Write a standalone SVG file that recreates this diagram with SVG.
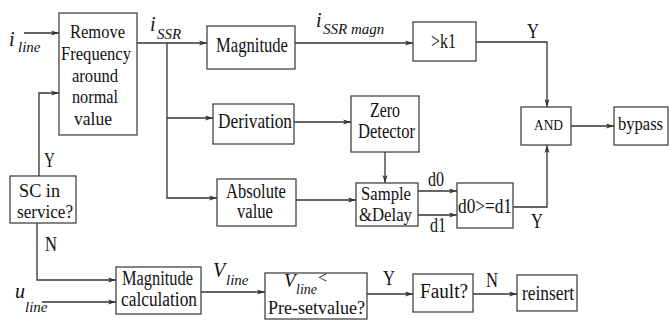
<svg xmlns="http://www.w3.org/2000/svg" width="669" height="320" viewBox="0 0 669 320" font-family="'Liberation Serif', 'Times New Roman', serif">
<defs>
<marker id="arr" viewBox="0 0 8 6" refX="8" refY="3" markerWidth="8" markerHeight="6" markerUnits="userSpaceOnUse" orient="auto">
<path d="M0,0.5 L8,3 L0,5.5 L2,3 Z" fill="#333"/>
</marker>
<style>
text{font-family:'Liberation Serif','Times New Roman',serif;fill:#111}
.box{fill:#fff;stroke:#444;stroke-width:1.3}
.t{font-size:20px}
.r{font-size:18.5px}
.i{font-style:italic;font-size:20px}
.s{font-style:italic;font-size:15px}
.c{fill:none;stroke:#333;stroke-width:1.3}
.a{marker-end:url(#arr)}
</style>
</defs>
<rect width="669" height="320" fill="#fff"/>
<g id="connectors">
<path class="c a" d="M24,33 H59"/>
<path class="c a" d="M39,176 V93 H59"/>
<path class="c a" d="M137,43 H207"/>
<path class="c a" d="M167,43 V198 H217"/>
<path class="c a" d="M167,118 H213"/>
<path class="c a" d="M295,43 H413"/>
<path class="c a" d="M476,42 H547 V107"/>
<path class="c a" d="M294,122 H351"/>
<path class="c a" d="M385,152 V183"/>
<path class="c a" d="M296,200 H356"/>
<path class="c a" d="M418,191 H457"/>
<path class="c a" d="M418,215 H457"/>
<path class="c a" d="M513,207 H547 V145"/>
<path class="c a" d="M571,126 H614"/>
<path class="c a" d="M37,223 V280 H116"/>
<path class="c a" d="M42,302 H116"/>
<path class="c a" d="M201,292 H265"/>
<path class="c a" d="M367,294 H413"/>
<path class="c a" d="M473,294 H517"/>
</g>
<g id="labels">
<text class="i" x="9" y="46">i<tspan class="s" x="18" y="52">line</tspan></text>
<text class="i" x="150" y="31">i<tspan class="s" x="157" y="39">SSR</tspan></text>
<text class="i" x="316" y="27">i<tspan class="s" x="323" y="34">SSR magn</tspan></text>
<text class="t" x="527" y="38" textLength="12" lengthAdjust="spacingAndGlyphs">Y</text>
<text class="t" x="428" y="186" textLength="16" lengthAdjust="spacingAndGlyphs">d0</text>
<text class="t" x="430" y="232" textLength="16" lengthAdjust="spacingAndGlyphs">d1</text>
<text class="t" x="531" y="228" textLength="12" lengthAdjust="spacingAndGlyphs">Y</text>
<text class="t" x="44" y="167" textLength="11" lengthAdjust="spacingAndGlyphs">Y</text>
<text class="t" x="45" y="251" textLength="12" lengthAdjust="spacingAndGlyphs">N</text>
<text class="i" x="15" y="298">u<tspan class="s" x="25" y="312">line</tspan></text>
<text class="i" x="213" y="277">V<tspan class="s" x="226" y="285">line</tspan></text>
<text class="t" x="383" y="285" textLength="12" lengthAdjust="spacingAndGlyphs">Y</text>
<text class="t" x="486" y="287" textLength="12" lengthAdjust="spacingAndGlyphs">N</text>
</g>
<g id="remove">
<rect class="box" x="59" y="13" width="78" height="122"/>
<text class="r" x="70" y="38" textLength="55" lengthAdjust="spacingAndGlyphs">Remove</text>
<text class="r" x="61" y="60" textLength="70" lengthAdjust="spacingAndGlyphs">Frequency</text>
<text class="r" x="72" y="82" textLength="46" lengthAdjust="spacingAndGlyphs">around</text>
<text class="r" x="72" y="103" textLength="46" lengthAdjust="spacingAndGlyphs">normal</text>
<text class="r" x="74" y="125" textLength="38" lengthAdjust="spacingAndGlyphs">value</text>
</g>
<g id="magnitude">
<rect class="box" x="207" y="26" width="88" height="43"/>
<text class="t" x="216" y="52" style="font-size:22px" textLength="72" lengthAdjust="spacingAndGlyphs">Magnitude</text>
</g>
<g id="k1">
<rect class="box" x="413" y="22" width="63" height="39"/>
<text class="t" x="431" y="48" textLength="25" lengthAdjust="spacingAndGlyphs">&gt;k1</text>
</g>
<g id="and">
<rect class="box" x="521" y="107" width="50" height="38"/>
<text class="t" x="534" y="130" style="font-size:15px" textLength="29" lengthAdjust="spacingAndGlyphs">AND</text>
</g>
<g id="bypass">
<rect class="box" x="614" y="107" width="54" height="38"/>
<text class="t" x="618" y="130" style="font-size:19px" textLength="45" lengthAdjust="spacingAndGlyphs">bypass</text>
</g>
<g id="derivation">
<rect class="box" x="213" y="104" width="81" height="40"/>
<text class="t" x="218" y="128" style="font-size:21px" textLength="74" lengthAdjust="spacingAndGlyphs">Derivation</text>
</g>
<g id="zero">
<rect class="box" x="351" y="96" width="68" height="56"/>
<text class="t" x="370" y="117" textLength="30" lengthAdjust="spacingAndGlyphs">Zero</text>
<text class="t" x="358" y="138" textLength="57" lengthAdjust="spacingAndGlyphs">Detector</text>
</g>
<g id="absolute">
<rect class="box" x="217" y="179" width="79" height="47"/>
<text class="t" x="226" y="198" textLength="60" lengthAdjust="spacingAndGlyphs">Absolute</text>
<text class="t" x="237" y="218" textLength="36" lengthAdjust="spacingAndGlyphs">value</text>
</g>
<g id="sample">
<rect class="box" x="356" y="183" width="62" height="43"/>
<text class="t" x="361" y="200" style="font-size:18px" textLength="50" lengthAdjust="spacingAndGlyphs">Sample</text>
<text class="t" x="359" y="221" style="font-size:18px" textLength="53" lengthAdjust="spacingAndGlyphs">&amp;Delay</text>
</g>
<g id="compare">
<rect class="box" x="457" y="183" width="56" height="45"/>
<text class="t" x="458" y="213" textLength="54" lengthAdjust="spacingAndGlyphs">d0&gt;=d1</text>
</g>
<g id="sc">
<rect class="box" x="10" y="176" width="66" height="47"/>
<text class="t" x="19" y="197" style="font-size:18.5px" textLength="41" lengthAdjust="spacingAndGlyphs">SC in</text>
<text class="t" x="17" y="218" style="font-size:18.5px" textLength="56" lengthAdjust="spacingAndGlyphs">service?</text>
</g>
<g id="magcalc">
<rect class="box" x="116" y="267" width="85" height="47"/>
<text class="t" x="122" y="285" textLength="71" lengthAdjust="spacingAndGlyphs">Magnitude</text>
<text class="t" x="121" y="306" textLength="76" lengthAdjust="spacingAndGlyphs">calculation</text>
</g>
<g id="preset">
<rect class="box" x="265" y="273" width="102" height="46"/>
<text class="i" x="284" y="287" style="font-size:19px">V<tspan class="s" x="296" y="294" style="font-size:14px">line</tspan><tspan x="318" y="283" style="font-style:normal;font-size:16px">&lt;</tspan></text>
<text class="t" x="268" y="314" style="font-size:18.5px" textLength="97" lengthAdjust="spacingAndGlyphs">Pre-setvalue?</text>
</g>
<g id="fault">
<rect class="box" x="413" y="274" width="60" height="38"/>
<text class="t" x="420" y="298" textLength="48" lengthAdjust="spacingAndGlyphs">Fault?</text>
</g>
<g id="reinsert">
<rect class="box" x="517" y="275" width="60" height="36"/>
<text class="t" x="522" y="300" textLength="52" lengthAdjust="spacingAndGlyphs">reinsert</text>
</g>
</svg>
